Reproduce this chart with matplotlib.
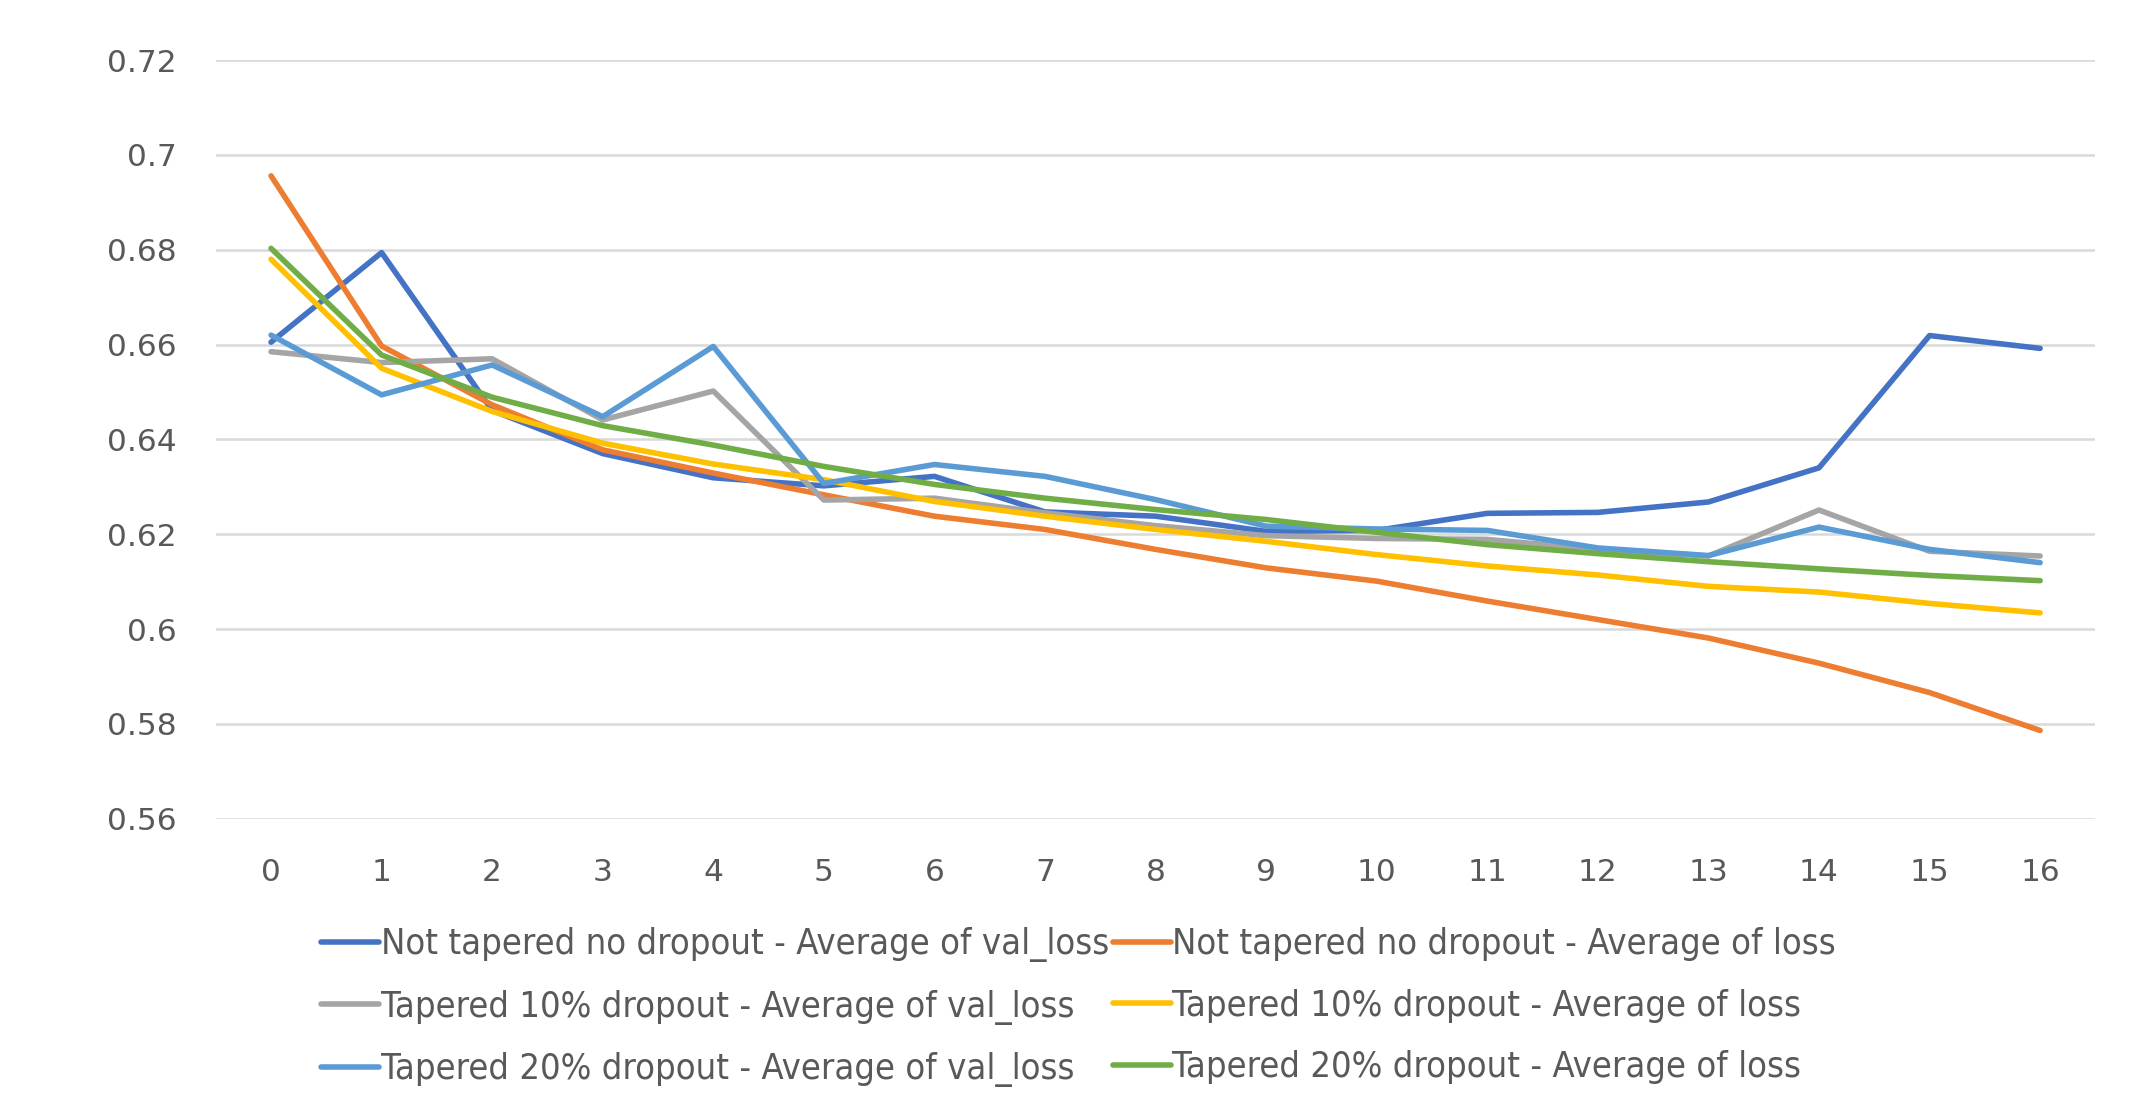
import matplotlib
matplotlib.use("Agg")
import matplotlib.pyplot as plt
from matplotlib.ticker import MultipleLocator, FuncFormatter
from matplotlib.font_manager import FontProperties

epochs = list(range(17))

nt_val_loss = [0.6605, 0.6794, 0.6461, 0.6370, 0.6319, 0.6302, 0.6322, 0.6247, 0.6238, 0.6206,
               0.6208, 0.6244, 0.6246, 0.6268, 0.6340, 0.6619, 0.6592]
nt_loss = [0.6956, 0.6597, 0.6473, 0.6378, 0.6329, 0.6283, 0.6238, 0.6210, 0.6168, 0.6129,
           0.6101, 0.6059, 0.6020, 0.5981, 0.5928, 0.5866, 0.5786]
t10_val_loss = [0.6585, 0.6562, 0.6570, 0.6441, 0.6502, 0.6272, 0.6276, 0.6245, 0.6218, 0.6197,
                0.6191, 0.6189, 0.6168, 0.6154, 0.6251, 0.6164, 0.6154]
t10_loss = [0.6780, 0.6550, 0.6459, 0.6392, 0.6348, 0.6315, 0.6269, 0.6238, 0.6210, 0.6185,
            0.6157, 0.6133, 0.6114, 0.6090, 0.6078, 0.6054, 0.6034]
t20_val_loss = [0.6620, 0.6494, 0.6557, 0.6448, 0.6596, 0.6307, 0.6347, 0.6322, 0.6273, 0.6217,
                0.6211, 0.6208, 0.6171, 0.6155, 0.6215, 0.6168, 0.6140]
t20_loss = [0.6803, 0.6578, 0.6489, 0.6429, 0.6388, 0.6343, 0.6305, 0.6276, 0.6252, 0.6231,
            0.6204, 0.6178, 0.6159, 0.6142, 0.6127, 0.6113, 0.6102]

series = [
    ("Not tapered no dropout - Average of val_loss", nt_val_loss, "#4472C4"),
    ("Not tapered no dropout - Average of loss", nt_loss, "#ED7D31"),
    ("Tapered 10% dropout - Average of val_loss", t10_val_loss, "#A5A5A5"),
    ("Tapered 10% dropout - Average of loss", t10_loss, "#FFC000"),
    ("Tapered 20% dropout - Average of val_loss", t20_val_loss, "#5B9BD5"),
    ("Tapered 20% dropout - Average of loss", t20_loss, "#70AD47"),
]

text_color = "#595959"
grid_color = "#D9D9D9"

fig = plt.figure(figsize=(21.36, 10.93), dpi=100)
ax = fig.add_axes([0.101, 0.251, 0.880, 0.694])

handles = {}
for label, values, color in series:
    (ln,) = ax.plot(epochs, values, color=color, lw=4.0,
                    solid_capstyle="round", solid_joinstyle="round", label=label)
    handles[label] = ln

ax.set_xlim(-0.5, 16.5)
ax.set_ylim(0.56, 0.72)
ax.yaxis.set_major_locator(MultipleLocator(0.02))
ax.yaxis.set_major_formatter(FuncFormatter(lambda v, _: f"{v:.2f}".rstrip("0")))
ax.set_xticks(epochs)
ax.grid(axis="y", color=grid_color, lw=1.8)
ax.set_axisbelow(True)
for sp in ax.spines.values():
    sp.set_visible(False)
ax.tick_params(axis="both", length=0, labelsize=22.5, colors=text_color)
ax.tick_params(axis="y", pad=28)
ax.tick_params(axis="x", pad=28)

# Row-major legend order: two columns, three rows
order = [0, 2, 4, 1, 3, 5]
leg_handles = [handles[series[i][0]] for i in order]
leg_labels = [series[i][0] for i in order]
leg_font = FontProperties(family=["DejaVu Sans"], stretch="condensed", size=26)
leg = fig.legend(leg_handles, leg_labels, ncol=2, loc="upper left",
                 bbox_to_anchor=(0.142, 0.168), bbox_transform=fig.transFigure,
                 frameon=False, handlelength=1.6, handletextpad=0.05,
                 columnspacing=0.1, labelspacing=0.76, borderpad=0,
                 prop=leg_font)
for t in leg.get_texts():
    t.set_color(text_color)

fig.savefig("out.png", dpi=100, facecolor="white")
